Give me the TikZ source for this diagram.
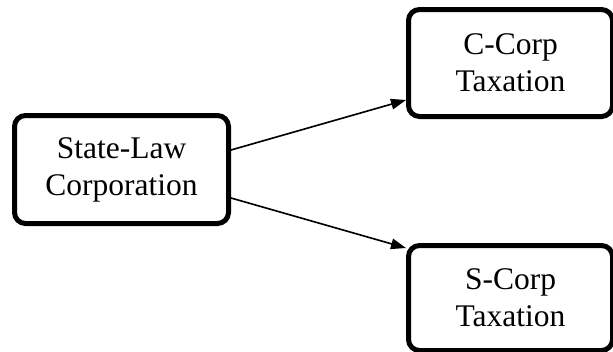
\documentclass[tikz,border=0pt]{standalone}
\usepackage{fontspec}
\setmainfont{Liberation Serif}
\usetikzlibrary{arrows.meta}
\begin{document}
\begin{tikzpicture}[x=1pt,y=-1pt,
  box/.style={draw=black, line width=5pt, rounded corners=11pt, fill=white,
    align=center, font=\fontsize{31.5}{37}\selectfont, inner sep=0pt},
  conn/.style={line width=1.6pt, -{Triangle[length=15pt,width=10.5pt]}}]
\useasboundingbox (0,0) rectangle (613,351);
\node[box, minimum width=214pt, minimum height=108pt] (L) at (121.5,169.5) {State-Law\\Corporation};
\node[box, minimum width=204pt, minimum height=107pt] (C) at (510.5,63) {C-Corp\\Taxation};
\node[box, minimum width=204pt, minimum height=105pt] (S) at (510.5,298) {S-Corp\\Taxation};
\draw[conn] ([yshift=19.5pt]L.east) -- ([yshift=-37pt]C.west);
\draw[conn] ([yshift=-28.5pt]L.east) -- ([yshift=50pt]S.west);
\end{tikzpicture}
\end{document}
